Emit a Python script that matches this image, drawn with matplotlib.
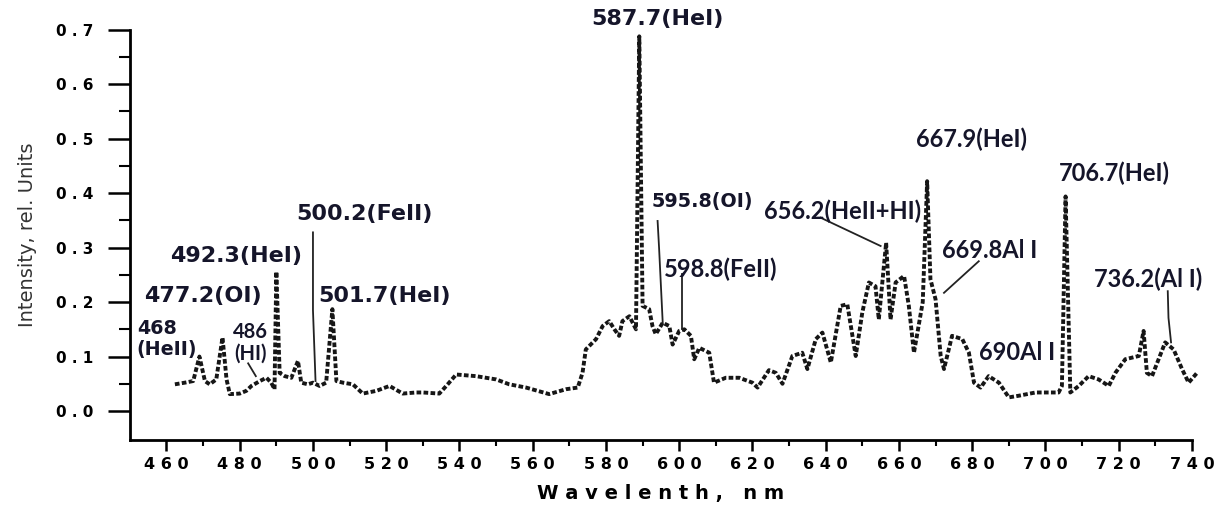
import numpy as np
import matplotlib.pyplot as plt

# emission spectrum, wavelength (nm) vs relative intensity
wavelength = [462.3, 465.0, 467.3, 469.0, 470.5, 471.8, 473.6, 475.3, 476.4, 477.3,
              480.0, 481.8, 483.2, 485.5, 487.3, 488.6, 489.5, 490.0, 490.9, 492.3,
              494.1, 495.9, 496.8, 498.6, 500.0, 501.8, 503.6, 505.3, 506.4, 508.2,
              510.9, 513.6, 517.3, 520.9, 524.5, 528.2, 530.0, 534.5, 536.4, 539.1,
              544.5, 550.0, 553.6, 558.2, 564.5, 569.1, 572.3, 573.6, 574.5, 577.3,
              579.1, 580.9, 582.3, 583.6, 584.5, 586.4, 588.2, 589.1, 590.0, 591.8,
              592.7, 593.6, 595.5, 597.3, 598.2, 600.0, 601.4, 603.2, 604.1, 605.5,
              608.2, 609.5, 612.7, 616.4, 620.0, 621.4, 624.5, 626.4, 628.2, 630.9,
              633.6, 635.0, 637.3, 639.1, 641.4, 644.1, 645.9, 648.2, 650.0, 651.8,
              653.6, 654.5, 656.5, 657.7, 659.1, 661.4, 662.7, 664.1, 666.5, 667.7,
              668.6, 670.0, 671.4, 672.3, 674.5, 677.3, 679.1, 680.5, 682.3, 684.5,
              687.3, 690.0, 692.7, 697.3, 703.6, 704.5, 705.5, 706.8, 709.1, 711.8,
              714.5, 717.3, 719.1, 721.8, 725.5, 726.8, 727.7, 729.1, 730.9, 732.7,
              735.0, 737.3, 739.1, 741.4]
intensity = [0.049, 0.052, 0.055, 0.100, 0.055, 0.049, 0.058, 0.135, 0.058, 0.031,
             0.032, 0.037, 0.046, 0.055, 0.061, 0.052, 0.040, 0.256, 0.070, 0.064,
             0.061, 0.092, 0.052, 0.049, 0.052, 0.046, 0.052, 0.187, 0.055, 0.052,
             0.049, 0.032, 0.037, 0.046, 0.032, 0.034, 0.034, 0.032, 0.046, 0.067,
             0.064, 0.058, 0.049, 0.043, 0.031, 0.040, 0.043, 0.070, 0.113, 0.132,
             0.156, 0.165, 0.150, 0.138, 0.165, 0.174, 0.150, 0.688, 0.193, 0.187,
             0.156, 0.141, 0.162, 0.156, 0.122, 0.147, 0.150, 0.138, 0.095, 0.116,
             0.107, 0.052, 0.061, 0.061, 0.052, 0.043, 0.075, 0.070, 0.050, 0.101,
             0.107, 0.077, 0.132, 0.144, 0.089, 0.193, 0.196, 0.101, 0.181, 0.236,
             0.229, 0.168, 0.309, 0.168, 0.236, 0.248, 0.193, 0.107, 0.200, 0.422,
             0.242, 0.205, 0.101, 0.077, 0.138, 0.132, 0.107, 0.052, 0.043, 0.064,
             0.052, 0.025, 0.028, 0.034, 0.034, 0.046, 0.394, 0.034, 0.046, 0.064,
             0.058, 0.046, 0.070, 0.095, 0.101, 0.147, 0.070, 0.064, 0.095, 0.126,
             0.113, 0.077, 0.052, 0.070]

# line identifications and where their text sits (nm, intensity)
big_labels = ["587.7(HeI)", "492.3(HeI)", "500.2(FeII)", "477.2(OI)", "501.7(HeI)"]
big_pos = [(594.0, 0.719), (478.9, 0.284), (514.1, 0.361), (470.0, 0.211), (519.5, 0.212)]
mid_labels = ["468\n(HeII)", "595.8(OI)"]
mid_pos = [(451.9, 0.132), (592.4, 0.385)]
small_labels = ["598.8(FeII)", "656.2(HeII+HI)", "667.9(HeI)",
                "669.8Al I", "706.7(HeI)", "736.2(Al I)", "690Al I"]
small_pos = [(595.9, 0.260), (623.2, 0.367), (664.6, 0.499),
             (671.7, 0.294), (703.6, 0.437), (713.2, 0.242), (681.8, 0.107)]
hi_label = "486\n(HI)"
hi_pos = (483.0, 0.126)

# leader lines from labels to features
leaders = [
    ([500.0, 500.0, 500.7], [0.328, 0.185, 0.055]),
    ([482.3, 484.4], [0.0875, 0.064]),
    ([594.1, 594.5, 595.5], [0.349, 0.300, 0.162]),
    ([600.9, 600.9], [0.251, 0.150]),
    ([638.6, 655.0], [0.355, 0.303]),
    ([681.8, 672.3], [0.275, 0.217]),
    ([733.4, 733.6, 734.3], [0.220, 0.171, 0.126]),
]

xticks = np.arange(460, 741, 20)
yticks = np.arange(0, 0.71, 0.1)

fig = plt.figure(figsize=(12.25, 5.05), dpi=100)
ax = fig.add_axes([0.106, 0.129, 0.867, 0.812])

ax.plot(wavelength, intensity, color="#161616", lw=2.8,
        linestyle=(0, (1.2, 0.6)), clip_on=False)

for xs, ys in leaders:
    ax.plot(xs, ys, color="#222222", lw=1.3)

txt_color = "#15152a"
for t, (x, y) in zip(big_labels, big_pos):
    ax.text(x, y, t, ha="center", va="center", fontsize=16, fontweight="bold",
            color=txt_color, family="DejaVu Sans")
for t, (x, y) in zip(mid_labels, mid_pos):
    ax.text(x, y, t, ha="left", va="center", fontsize=13.8, fontweight="bold",
            color=txt_color, family="DejaVu Sans", linespacing=1.1)
for t, (x, y) in zip(small_labels, small_pos):
    ax.text(x, y, t, ha="left", va="center", fontsize=17, fontweight="bold",
            color=txt_color, family="Lato")
ax.text(hi_pos[0], hi_pos[1], hi_label, ha="center", va="center", fontsize=14.5,
        fontweight="bold", color=txt_color, family="Lato", linespacing=1.1)

ax.set_xlim(450, 740)
ax.set_ylim(-0.053, 0.7)
ax.spines["top"].set_visible(False)
ax.spines["right"].set_visible(False)
ax.spines["left"].set_linewidth(2)
ax.spines["bottom"].set_linewidth(2)

ax.set_xticks(xticks)
ax.set_xticklabels([" ".join(str(v)) for v in xticks])
ax.set_xticks(np.arange(470, 740, 20), minor=True)
ax.set_yticks(yticks)
ax.set_yticklabels([" ".join(f"{v:.1f}") for v in yticks])
ax.set_yticks(np.arange(0.05, 0.7, 0.1), minor=True)

ax.tick_params(axis="y", which="major", direction="out", length=16, width=1.8,
               labelsize=11, pad=10)
ax.tick_params(axis="x", which="major", direction="out", length=8, width=1.8,
               labelsize=11.5, pad=4)
ax.tick_params(axis="y", which="minor", direction="out", length=8, width=1.5)
ax.tick_params(axis="x", which="minor", direction="out", length=4, width=1.5)
for lab in ax.get_xticklabels() + ax.get_yticklabels():
    lab.set_fontweight("bold")

ax.set_xlabel("W a v e l e n t h ,   n m", fontsize=14, fontweight="bold", labelpad=9)
ax.set_ylabel("Intensity, rel. Units", fontsize=14, color="#333333",
              family=["Liberation Sans Narrow", "DejaVu Sans"], labelpad=14)

fig.savefig("out.png", dpi=100)
